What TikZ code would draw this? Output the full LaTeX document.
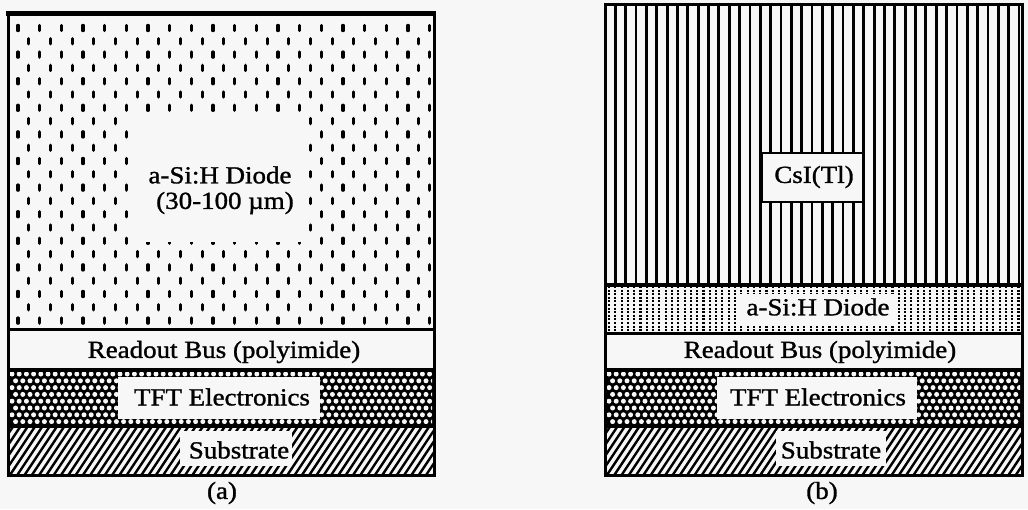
\documentclass[tikz,border=0pt]{standalone}
\usepackage{fontspec}
\setmainfont{Liberation Serif}[FakeStretch=1.1, FakeBold=1.2]
\definecolor{paper}{HTML}{F7F7F7}
\tikzset{
  txt/.style={font=\fontsize{24.5}{28}\selectfont, inner sep=0pt, text=black},
  layer/.style={draw=black, line width=3pt},
  dotmark/.style={line width=3.2pt, line cap=round},
  csiline/.style={line width=2.8pt},
  diodedots/.style={line width=2.1pt, dash pattern=on 2pt off 1.6pt},
  hatchline/.style={line width=2.4pt},
  tftdot/.style={fill=paper},
  blank/.style={fill=paper},
  labelbox/.style={fill=paper, draw=black, line width=2.5pt},
}
\begin{document}
\begin{tikzpicture}[x=1pt, y=-1pt]
\useasboundingbox (0,0) rectangle (1028,509);
\fill[paper] (0,0) rectangle (1028,509);

% ---------------- (a) single thick a-Si:H layer ----------------
% dotted diode layer
\begin{scope}
  \clip (8,14) rectangle (434,328);
  \foreach \r in {0,...,22}{
    \pgfmathsetmacro\off{mod(\r,2)*10.8}
    \pgfmathsetmacro\yy{28+13.3*\r}
    \foreach \c in {0,...,19}{
      \draw[dotmark] ({18+\off+21.67*\c},{\yy-2.6}) -- ++(0,5.2);
    }
  }
\end{scope}
\fill[blank] (132,116) rectangle (308,242);
\node[txt] (diodeA) at (220,175) {a-Si:H Diode};
\node[txt] (thickA) at (225,203) {(30-100 µm)};

% readout bus
\fill[paper] (8,330) rectangle (434,369);
\node[txt] (busA) at (224,352) {Readout Bus (polyimide)};

% TFT electronics
\fill[black] (8,368) rectangle (434,427);
\begin{scope}
  \clip (10,372) rectangle (432,423);
  \foreach \r in {0,...,7}{
    \pgfmathsetmacro\off{mod(\r,2)*3.6}
    \pgfmathsetmacro\yy{374+6.8*\r}
    \foreach \c in {0,...,59}{
      \fill[tftdot] ({12+\off+7.2*\c},\yy) circle (2.5);
    }
  }
\end{scope}
\fill[blank] (118,377) rectangle (320,419);
\node[txt] (tftA) at (222,397) {TFT Electronics};

% substrate
\begin{scope}
  \clip (8,427) rectangle (434,475);
  \foreach \k in {-8,...,60}{
    \draw[hatchline] ({8+7.3*\k},478) -- ++(36,-54);
  }
\end{scope}
\fill[blank] (180,431) rectangle (292,466);
\node[txt] (subA) at (239,450) {Substrate};

% layer boundaries and outline
\draw[line width=3pt] (8,329) -- (434,329);
\draw[line width=3pt] (8,426) -- (434,426);
\draw[layer] (8,14) rectangle (434,475);
\draw[line width=5pt] (6,13.5) -- (436,13.5);

\node[txt] (capA) at (222,493) {(a)};

% ---------------- (b) CsI(Tl) on thin a-Si:H ----------------
% columnar CsI
\begin{scope}
  \clip (605,5) rectangle (1022,284);
  \foreach \k in {0,...,40}{
    \draw[csiline] ({605+10.35*\k},0) -- ++(0,290);
  }
\end{scope}
\node[labelbox, minimum width=101pt, minimum height=49pt, inner sep=0pt] (csiBox) at (812.5,177.5) {};
\node[txt] (csi) at (814,177) {CsI(Tl)};

% thin diode
\begin{scope}
  \clip (605,286) rectangle (1022,332);
  \foreach \k in {0,...,66}{
    \draw[diodedots] ({609+6.3*\k},286) -- ++(0,48);
  }
\end{scope}
\fill[blank] (740,294) rectangle (896,326);
\node[txt] (diodeB) at (818,307) {a-Si:H Diode};

% readout bus
\fill[paper] (605,334) rectangle (1022,369);
\node[txt] (busB) at (820,352) {Readout Bus (polyimide)};

% TFT electronics
\fill[black] (605,368) rectangle (1022,427);
\begin{scope}
  \clip (607,372) rectangle (1020,423);
  \foreach \r in {0,...,7}{
    \pgfmathsetmacro\off{mod(\r,2)*3.6}
    \pgfmathsetmacro\yy{374+6.8*\r}
    \foreach \c in {0,...,58}{
      \fill[tftdot] ({609+\off+7.2*\c},\yy) circle (2.5);
    }
  }
\end{scope}
\fill[blank] (717,377) rectangle (917,419);
\node[txt] (tftB) at (818,397) {TFT Electronics};

% substrate
\begin{scope}
  \clip (605,427) rectangle (1022,475);
  \foreach \k in {-8,...,60}{
    \draw[hatchline] ({605+7.3*\k},478) -- ++(36,-54);
  }
\end{scope}
\fill[blank] (776,431) rectangle (886,466);
\node[txt] (subB) at (831,450) {Substrate};

% layer boundaries and outline
\draw[line width=4pt] (605,284.5) -- (1022,284.5);
\draw[line width=3pt] (605,333) -- (1022,333);
\draw[line width=3pt] (605,426) -- (1022,426);
\draw[layer] (605,4) rectangle (1022,475);

\node[txt] (capB) at (822,493) {(b)};
\end{tikzpicture}
\end{document}
